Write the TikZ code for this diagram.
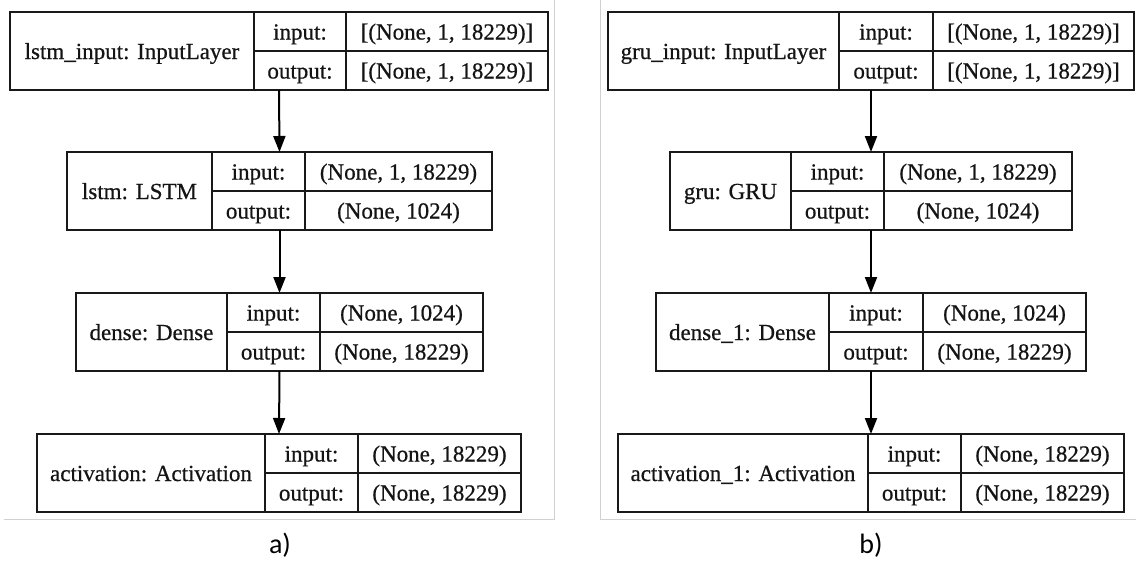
\documentclass[tikz,border=0pt]{standalone}
\usepackage{fontspec}
\setmainfont{Liberation Serif}
\newfontfamily\cellfont[FakeBold=0.6]{Liberation Serif}
\newfontfamily\captionfont{Carlito}
\usetikzlibrary{arrows.meta}

% One Keras layer box: name, left x, first divider x, second divider x,
% right x, top y, layer label, input shape, output shape
\newcommand{\layerbox}[9]{%
  \node[outerbox, minimum width={#5-#2}, minimum height=78] (#1)
       at ({(#2+#5)/2},{#6+39}) {};
  \draw[boxline] (#3,#6) -- (#3,#6+78);
  \draw[boxline] (#4,#6) -- (#4,#6+78);
  \draw[boxline] (#3,#6+39) -- (#5,#6+39);
  \node[celltext] (#1-label)  at ({(#2+#3)/2},{#6+39+8})   {#7};
  \node[celltext] (#1-inkey)  at ({(#3+#4)/2},{#6+19.5+8}) {input:};
  \node[celltext] (#1-outkey) at ({(#3+#4)/2},{#6+58.5+8}) {output:};
  \node[celltext] (#1-inval)  at ({(#4+#5)/2},{#6+19.5+8}) {#8};
  \node[celltext] (#1-outval) at ({(#4+#5)/2},{#6+58.5+8}) {#9};
}

\begin{document}
\begin{tikzpicture}[x=1pt, y=-1pt,
  outerbox/.style={draw=black!90, line width=1.6pt, inner sep=0pt, outer sep=0pt},
  boxline/.style={draw=black!90, line width=1.6pt},
  celltext/.style={anchor=base, inner sep=0pt, text=black!92, font=\cellfont\fontsize{23}{26}\selectfont},
  flow/.style={draw=black, line width=2pt, -{Triangle[length=16pt,width=12pt]}},
  frameline/.style={draw=black!18, line width=1pt},
  caption/.style={font=\captionfont\fontsize{28}{32}\selectfont, inner sep=0pt}]

\useasboundingbox (0,0) rectangle (1136,581);
\fill[white] (0,0) rectangle (1136,581);

% panel frames
\draw[frameline] (4,519) -- (554,519) -- (554,0);
\draw[frameline] (600,0) -- (600,519) -- (1136,519);

% a) LSTM model
\layerbox{lstmin}{10}{254}{346}{548}{12}{lstm\_input: InputLayer}{[(None, 1, 18229)]}{[(None, 1, 18229)]}
\layerbox{lstm}{67}{212}{305}{492}{152}{lstm: LSTM}{(None, 1, 18229)}{(None, 1024)}
\layerbox{dense}{76}{227}{320}{483}{293}{dense: Dense}{(None, 1024)}{(None, 18229)}
\layerbox{act}{37}{265}{358}{521}{434}{activation: Activation}{(None, 18229)}{(None, 18229)}

\draw[flow] (lstmin.south) -- (lstm.north);
\draw[flow] (lstm.south) -- (dense.north);
\draw[flow] (dense.south) -- (act.north);

\node[caption] (capa) at (280,545) {a)};

% b) GRU model
\layerbox{gruin}{608}{839}{933}{1134}{12}{gru\_input: InputLayer}{[(None, 1, 18229)]}{[(None, 1, 18229)]}
\layerbox{gru}{670}{791}{884}{1072}{152}{gru: GRU}{(None, 1, 18229)}{(None, 1024)}
\layerbox{densei}{656}{829}{923}{1086}{293}{dense\_1: Dense}{(None, 1024)}{(None, 18229)}
\layerbox{acti}{618}{868}{961}{1124}{434}{activation\_1: Activation}{(None, 18229)}{(None, 18229)}

\draw[flow] (gruin.south) -- (gru.north);
\draw[flow] (gru.south) -- (densei.north);
\draw[flow] (densei.south) -- (acti.north);

\node[caption] (capb) at (871,545) {b)};
\end{tikzpicture}
\end{document}
